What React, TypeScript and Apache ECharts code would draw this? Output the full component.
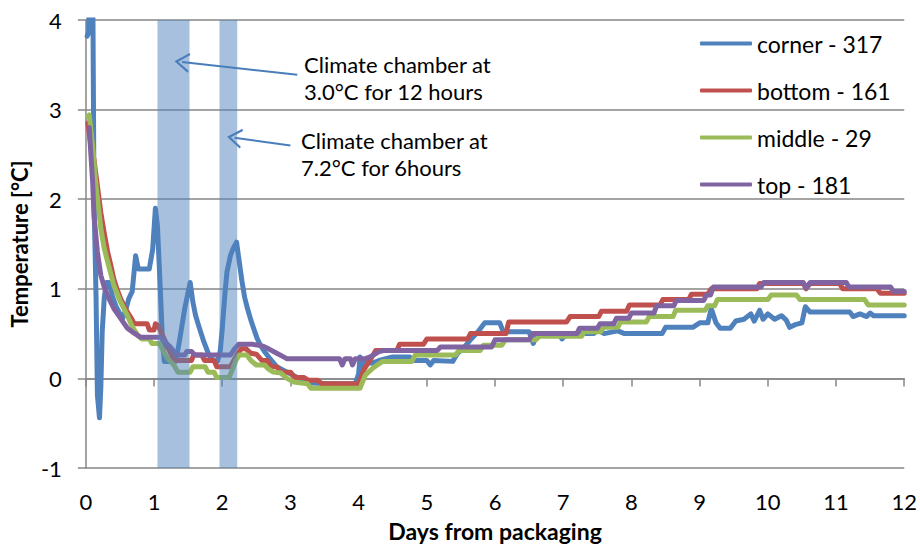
import { useRef, useEffect } from 'react'
import * as echarts from 'echarts'

// [day, °C]
const cornerData = [
  [0.02, 3.82], [0.04, 3.86], [0.06, 4.6], [0.1, 4.6], [0.12, 2.0], [0.15, 0.9], [0.17, -0.19], [0.2, -0.44],
  [0.22, -0.1], [0.24, 0.52], [0.27, 0.9], [0.3, 1.07], [0.34, 1.07], [0.39, 0.92], [0.44, 0.81], [0.5, 0.72],
  [0.54, 0.67], [0.58, 0.75], [0.63, 0.89], [0.68, 0.97], [0.73, 1.37], [0.77, 1.22], [0.93, 1.22], [0.98, 1.44],
  [1.02, 1.9], [1.05, 1.7], [1.08, 1.2], [1.12, 0.5], [1.15, 0.19], [1.32, 0.19], [1.38, 0.45], [1.45, 0.78],
  [1.53, 1.07], [1.57, 0.85], [1.61, 0.7], [1.67, 0.55], [1.73, 0.41], [1.8, 0.27], [1.86, 0.2], [1.93, 0.19],
  [1.97, 0.3], [2.0, 0.55], [2.04, 0.95], [2.07, 1.19], [2.12, 1.37], [2.16, 1.45], [2.21, 1.52], [2.25, 1.3],
  [2.29, 1.08], [2.33, 0.9], [2.37, 0.78], [2.42, 0.65], [2.46, 0.56], [2.51, 0.45], [2.56, 0.37], [2.62, 0.3],
  [2.7, 0.22], [2.8, 0.13], [2.95, 0.07], [3.1, 0.01], [3.3, -0.05], [3.6, -0.06], [3.95, -0.06], [4.0, 0.05],
  [4.02, 0.24], [4.05, 0.12], [4.1, 0.18], [4.2, 0.17], [4.3, 0.2], [4.5, 0.24], [4.75, 0.24], [4.8, 0.2],
  [5.0, 0.2], [5.05, 0.15], [5.1, 0.2], [5.38, 0.19], [5.45, 0.28], [5.55, 0.35], [5.65, 0.44], [5.75, 0.52],
  [5.85, 0.62], [6.07, 0.62], [6.12, 0.52], [6.5, 0.52], [6.56, 0.39], [6.62, 0.5], [6.95, 0.5], [6.98, 0.44],
  [7.05, 0.5], [7.45, 0.5], [7.5, 0.54], [7.6, 0.5], [7.8, 0.53], [7.9, 0.5], [8.45, 0.5], [8.5, 0.57],
  [8.9, 0.57], [9.0, 0.62], [9.12, 0.62], [9.17, 0.78], [9.24, 0.62], [9.3, 0.56], [9.45, 0.56], [9.53, 0.64],
  [9.65, 0.66], [9.75, 0.72], [9.8, 0.64], [9.88, 0.76], [9.93, 0.66], [10.0, 0.72], [10.1, 0.66], [10.2, 0.7],
  [10.27, 0.65], [10.32, 0.57], [10.4, 0.6], [10.5, 0.62], [10.55, 0.8], [10.62, 0.74], [11.2, 0.74], [11.25, 0.69],
  [11.35, 0.72], [11.45, 0.69], [11.5, 0.73], [11.55, 0.7], [12.0, 0.7],
]

const bottomData = [
  [0.03, 2.85], [0.07, 2.62], [0.12, 2.44], [0.17, 2.15], [0.22, 1.85], [0.27, 1.62], [0.32, 1.41], [0.37, 1.25],
  [0.41, 1.11], [0.46, 0.99], [0.51, 0.89], [0.56, 0.81], [0.61, 0.74], [0.66, 0.68], [0.71, 0.61], [0.9, 0.61],
  [0.93, 0.54], [1.0, 0.54], [1.02, 0.61], [1.06, 0.59], [1.1, 0.52], [1.15, 0.44], [1.2, 0.35], [1.25, 0.27],
  [1.29, 0.2], [1.55, 0.2], [1.58, 0.26], [1.7, 0.26], [1.74, 0.2], [1.88, 0.2], [1.92, 0.13], [2.12, 0.13],
  [2.17, 0.2], [2.23, 0.28], [2.28, 0.33], [2.35, 0.33], [2.42, 0.28], [2.5, 0.27], [2.58, 0.2], [2.66, 0.2],
  [2.72, 0.13], [2.8, 0.13], [2.86, 0.07], [3.0, 0.07], [3.06, 0.01], [3.2, 0.01], [3.26, -0.02], [3.4, -0.02],
  [3.46, -0.06], [4.0, -0.06], [4.08, 0.1], [4.18, 0.22], [4.25, 0.31], [4.56, 0.31], [4.6, 0.38], [4.95, 0.38],
  [5.0, 0.44], [5.6, 0.44], [5.64, 0.5], [6.16, 0.5], [6.2, 0.63], [7.05, 0.63], [7.1, 0.69], [7.52, 0.69],
  [7.56, 0.75], [7.93, 0.75], [7.97, 0.82], [8.42, 0.82], [8.46, 0.88], [8.84, 0.88], [8.88, 0.94], [9.12, 0.94],
  [9.17, 1.0], [9.84, 1.0], [9.88, 1.06], [10.52, 1.06], [10.56, 1.0], [10.62, 1.06], [11.05, 1.06], [11.1, 1.0],
  [11.6, 1.0], [11.65, 0.95], [12.0, 0.95],
]

const middleData = [
  [0.03, 2.92], [0.05, 2.94], [0.1, 2.59], [0.15, 2.15], [0.22, 1.67], [0.27, 1.45], [0.32, 1.3], [0.41, 1.04],
  [0.51, 0.85], [0.61, 0.7], [0.68, 0.58], [0.76, 0.48], [0.82, 0.44], [0.93, 0.44], [0.97, 0.39], [1.08, 0.39],
  [1.14, 0.3], [1.2, 0.22], [1.29, 0.15], [1.35, 0.07], [1.53, 0.07], [1.57, 0.13], [1.75, 0.13], [1.79, 0.07],
  [1.88, 0.07], [1.92, 0.01], [2.1, 0.01], [2.15, 0.1], [2.2, 0.2], [2.25, 0.26], [2.36, 0.26], [2.42, 0.2],
  [2.5, 0.15], [2.62, 0.15], [2.67, 0.11], [2.75, 0.07], [2.86, 0.06], [2.95, 0.0], [3.05, -0.04], [3.25, -0.06],
  [3.3, -0.11], [4.02, -0.11], [4.1, 0.04], [4.2, 0.11], [4.35, 0.19], [4.78, 0.19], [4.83, 0.26], [5.42, 0.26],
  [5.47, 0.31], [5.78, 0.31], [5.83, 0.37], [6.1, 0.37], [6.15, 0.43], [6.6, 0.43], [6.65, 0.47], [7.27, 0.47],
  [7.31, 0.52], [7.55, 0.52], [7.59, 0.57], [7.8, 0.57], [7.84, 0.63], [8.22, 0.63], [8.26, 0.69], [8.61, 0.69],
  [8.65, 0.76], [9.08, 0.76], [9.12, 0.81], [9.22, 0.81], [9.26, 0.88], [10.0, 0.88], [10.05, 0.93], [10.42, 0.93],
  [10.47, 0.88], [11.42, 0.88], [11.47, 0.82], [12.0, 0.82],
]

const topData = [
  [0.05, 2.8], [0.07, 2.55], [0.1, 2.19], [0.12, 1.81], [0.17, 1.41], [0.22, 1.15], [0.27, 1.02], [0.32, 0.92],
  [0.41, 0.78], [0.51, 0.67], [0.61, 0.56], [0.68, 0.52], [0.76, 0.48], [0.8, 0.46], [1.1, 0.46], [1.17, 0.4],
  [1.24, 0.35], [1.29, 0.3], [1.34, 0.26], [1.45, 0.26], [1.48, 0.3], [1.55, 0.3], [1.6, 0.26], [2.12, 0.26],
  [2.18, 0.33], [2.24, 0.38], [2.45, 0.38], [2.6, 0.36], [2.68, 0.33], [2.8, 0.28], [2.9, 0.24], [2.95, 0.22],
  [3.72, 0.22], [3.76, 0.15], [3.8, 0.22], [3.88, 0.22], [3.91, 0.15], [3.95, 0.22], [4.1, 0.22], [4.17, 0.24],
  [4.3, 0.3], [4.37, 0.31], [5.15, 0.31], [5.2, 0.35], [5.95, 0.35], [6.0, 0.43], [6.5, 0.43], [6.55, 0.5],
  [7.2, 0.5], [7.24, 0.56], [7.5, 0.56], [7.54, 0.61], [7.74, 0.61], [7.78, 0.67], [7.96, 0.67], [8.0, 0.73],
  [8.33, 0.73], [8.37, 0.81], [8.62, 0.81], [8.66, 0.87], [9.06, 0.87], [9.1, 0.93], [9.16, 0.93], [9.2, 1.02],
  [9.9, 1.02], [9.94, 1.07], [10.52, 1.07], [10.56, 1.01], [10.62, 1.07], [11.15, 1.07], [11.19, 1.02], [11.8, 1.02],
  [11.84, 0.97], [12.0, 0.97],
]

const seriesNames = ['corner - 317', 'bottom - 161', 'middle - 29', 'top - 181']
const seriesColors = ['#4F81BD', '#C0504D', '#9BBB59', '#8064A2']

// climate chamber periods [start day, end day]
const chamberBands = [[1.05, 1.52], [1.96, 2.22]]
const chamberNotes = ['Climate chamber at\n3.0°C for 12 hours', 'Climate chamber at\n7.2°C for 6hours']
// arrows: from text to band, [day, °C]
const arrowLines = [
  [[3.1, 3.39], [1.41, 3.53]],
  [[3.0, 2.6], [2.18, 2.685]],
]

const Y_MIN = -1
const Y_MAX = 4
const FONT = 'Lato, "Liberation Sans", sans-serif'
const GRAY = '#868686'

export default function App() {
  const cDom = useRef<HTMLDivElement>(null)

  useEffect(() => {
    if (!cDom.current) return
    const chart = echarts.init(cDom.current, null, { renderer: 'svg' })
    const allData = [cornerData, bottomData, middleData, topData]

    const option = {
      animation: false,
      backgroundColor: '#fff',
      textStyle: { fontFamily: FONT },
      grid: { left: 85, right: 15, top: 20, bottom: 77 },
      legend: {
        orient: 'vertical',
        left: 700,
        top: 32,
        padding: 0,
        itemGap: 24,
        itemWidth: 52,
        itemHeight: 4,
        icon: 'roundRect',
        textStyle: { fontSize: 23, color: '#000', lineHeight: 20, fontFamily: FONT },
        data: seriesNames,
      },
      xAxis: [
        {
          type: 'value',
          min: 0,
          max: 12,
          interval: 1,
          axisLine: { onZero: true, lineStyle: { color: GRAY, width: 1.5 } },
          axisTick: { show: true, length: 8, lineStyle: { color: GRAY, width: 1.5 } },
          axisLabel: { show: false },
          splitLine: { show: false },
        },
        {
          type: 'value',
          position: 'bottom',
          min: 0,
          max: 12,
          interval: 1,
          axisLine: { show: false, onZero: false },
          axisTick: { show: false },
          splitLine: { show: false },
          axisLabel: { fontSize: 22, color: '#000', margin: 22, fontFamily: FONT },
          name: 'Days from packaging',
          nameLocation: 'middle',
          nameGap: 51,
          nameTextStyle: { fontSize: 23, fontWeight: 'bold', color: '#000', fontFamily: FONT },
        },
      ],
      yAxis: {
        type: 'value',
        min: Y_MIN,
        max: Y_MAX,
        interval: 1,
        axisLine: { show: true, onZero: false, lineStyle: { color: GRAY, width: 1.5 } },
        axisTick: { show: true, length: 8, lineStyle: { color: GRAY, width: 1.5 } },
        splitLine: { lineStyle: { color: GRAY, width: 1.5 } },
        axisLabel: { fontSize: 22, color: '#000', margin: 24, fontFamily: FONT },
        name: 'Temperature [°C]',
        nameLocation: 'middle',
        nameGap: 45,
        nameTextStyle: { fontSize: 22, fontWeight: 'bold', color: '#000', fontFamily: FONT },
      },
      series: [
        ...seriesNames.map((name, i) => ({
          name,
          type: 'line',
          z: 2,
          data: allData[i],
          showSymbol: false,
          symbol: 'none',
          color: seriesColors[i],
          lineStyle: { width: 5, color: seriesColors[i], cap: 'round', join: 'round' },
          clip: true,
        })),
        {
          // chamber periods, drawn translucent over the lines
          name: 'chamber',
          type: 'custom',
          z: 10,
          silent: true,
          data: chamberBands,
          encode: { x: [0, 1] },
          renderItem: (_params: any, api: any) => {
            const p0 = api.coord([api.value(0), Y_MAX])
            const p1 = api.coord([api.value(1), Y_MIN])
            return {
              type: 'rect',
              shape: { x: p0[0], y: p0[1], width: p1[0] - p0[0], height: p1[1] - p0[1] },
              style: { fill: 'rgba(79,129,189,0.5)' },
            }
          },
        },
        {
          name: 'notes',
          type: 'line',
          z: 11,
          data: [],
          markLine: {
            silent: true,
            z: 11,
            symbol: ['none', 'path://M5,0 L10,9 L9,9.6 L5,2.4 L1,9.6 L0,9 Z'],
            symbolSize: [20, 15],
            label: { show: false },
            lineStyle: { color: '#4A7EBB', width: 2, type: 'solid' },
            data: arrowLines.map(([s, e]) => [{ coord: s }, { coord: e }]),
          },
        },
      ],
      graphic: [
        {
          type: 'text',
          left: 304,
          top: 51,
          style: { text: chamberNotes[0], font: `22px ${FONT}`, lineHeight: 27, fill: '#000' },
        },
        {
          type: 'text',
          left: 301,
          top: 127,
          style: { text: chamberNotes[1], font: `22px ${FONT}`, lineHeight: 27, fill: '#000' },
        },
      ],
    }

    chart.setOption(option as any)
    return () => {
      chart.dispose()
    }
  }, [])

  return (
    <div
      ref={cDom}
      style={{ position: 'fixed', left: 0, top: 0, width: 920, height: 547 }}
    ></div>
  )
}
